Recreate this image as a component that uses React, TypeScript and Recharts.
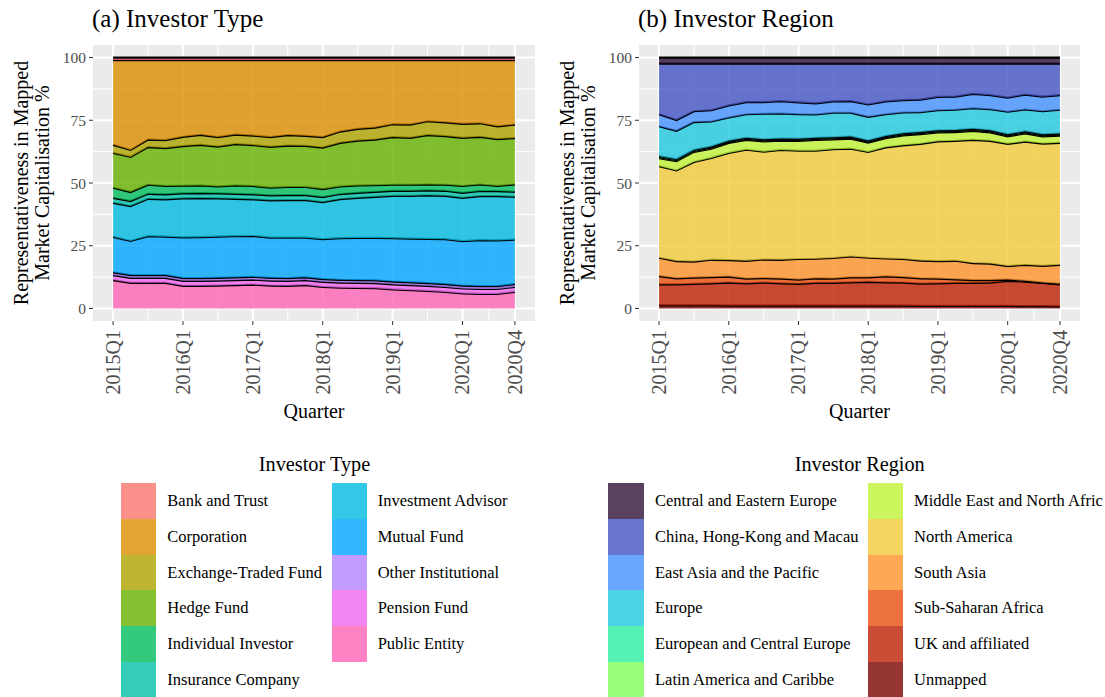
import React from "react";
import { AreaChart, Area, XAxis, YAxis, CartesianGrid } from "recharts";

const FONT = "'Liberation Serif', 'Times New Roman', serif";

const QUARTERS = [
  "2015Q1", "2015Q2", "2015Q3", "2015Q4", "2016Q1", "2016Q2", "2016Q3", "2016Q4",
  "2017Q1", "2017Q2", "2017Q3", "2017Q4", "2018Q1", "2018Q2", "2018Q3", "2018Q4",
  "2019Q1", "2019Q2", "2019Q3", "2019Q4", "2020Q1", "2020Q2", "2020Q3", "2020Q4",
];
const X_BREAKS = [0, 4, 8, 12, 16, 20, 23];
const X_MINOR = [2, 6, 10, 14, 18, 21.5];
const Y_BREAKS = [0, 25, 50, 75, 100];
const Y_MINOR = [12.5, 37.5, 62.5, 87.5];

// (a) investor type, legend order (top of stack first)
const TYPE_NAMES = [
  "Bank and Trust", "Corporation", "Exchange-Traded Fund", "Hedge Fund", "Individual Investor",
  "Insurance Company", "Investment Advisor", "Mutual Fund", "Other Institutional", "Pension Fund", "Public Entity",
];
const TYPE_COLORS = ["#F8766D", "#DB8E00", "#AEA200", "#64B200", "#00BD5C", "#00C1A7", "#00BADE", "#00A6FF", "#B385FF", "#EF67EB", "#FF63B6"];

const bankTrust = [1.0, 1.0, 1.0, 1.0, 1.0, 1.0, 1.0, 1.0, 1.0, 1.0, 1.0, 1.0, 1.0, 1.0, 1.0, 1.0, 1.0, 1.0, 1.0, 1.0, 1.0, 1.0, 1.0, 1.0];
const corporation = [33.8, 35.8, 31.7, 31.9, 30.6, 29.8, 30.7, 29.7, 30.1, 30.7, 29.9, 30.2, 30.7, 28.5, 27.4, 26.9, 25.6, 25.7, 24.4, 24.8, 25.4, 25.2, 26.4, 25.7];
const etf = [3.2, 2.8, 3.0, 3.2, 3.7, 4.0, 3.8, 3.8, 3.8, 3.9, 4.2, 4.0, 4.2, 4.5, 4.7, 4.8, 5.1, 5.3, 5.5, 5.5, 5.6, 5.4, 5.1, 5.4];
const hedgeFund = [13.9, 14.0, 15.0, 15.1, 15.8, 16.2, 15.9, 16.5, 16.3, 16.3, 16.5, 16.4, 16.5, 17.4, 17.9, 18.2, 19.0, 18.7, 19.7, 19.4, 19.2, 19.0, 18.7, 18.5];
const individual = [4.0, 3.6, 3.6, 3.3, 3.0, 3.0, 2.7, 3.3, 3.3, 3.0, 3.2, 3.2, 3.2, 3.0, 2.9, 2.6, 2.4, 2.4, 2.3, 2.4, 2.7, 2.6, 2.0, 2.9];
const insurance = [2.0, 2.0, 2.0, 2.0, 2.0, 2.0, 2.0, 2.0, 2.0, 2.0, 2.0, 2.0, 2.0, 2.0, 2.0, 2.0, 2.0, 2.0, 2.0, 2.0, 2.0, 2.0, 2.0, 2.0];
const investAdvisor = [13.6, 13.9, 14.9, 14.9, 15.6, 15.6, 15.3, 14.9, 14.6, 14.9, 15.0, 15.0, 14.8, 15.6, 16.0, 16.4, 16.9, 17.1, 17.4, 17.3, 17.3, 17.6, 17.7, 17.1];
const mutualFund = [14.1, 13.6, 15.5, 15.3, 16.2, 16.3, 16.4, 16.4, 16.3, 16.0, 16.1, 15.8, 15.9, 16.6, 16.8, 16.9, 17.3, 17.4, 17.6, 17.9, 17.7, 18.3, 18.2, 17.7];
const otherInst = [1.1, 1.1, 1.1, 1.1, 1.1, 1.1, 1.1, 1.1, 1.1, 1.1, 1.1, 1.1, 1.1, 1.1, 1.1, 1.1, 1.1, 1.1, 1.1, 1.1, 1.1, 1.1, 1.1, 1.1];
const pensionFund = [2.0, 2.0, 2.0, 2.0, 2.0, 2.0, 2.0, 2.0, 2.0, 2.0, 2.0, 2.0, 2.0, 2.0, 2.0, 2.0, 2.0, 2.0, 2.0, 2.0, 2.0, 2.0, 2.0, 2.0];
const publicEntity = [11.3, 10.2, 10.2, 10.2, 9.0, 9.0, 9.1, 9.3, 9.5, 9.1, 9.0, 9.3, 8.6, 8.3, 8.2, 8.1, 7.6, 7.3, 7.0, 6.6, 6.0, 5.8, 5.8, 6.6];

// (b) investor region
const REGION_NAMES = [
  "Central and Eastern Europe", "China, Hong-Kong and Macau", "East Asia and the Pacific", "Europe",
  "European and Central Europe", "Latin America and Caribbe", "Middle East and North Afric", "North America",
  "South Asia", "Sub-Saharan Africa", "UK and affiliated", "Unmapped",
];
const REGION_COLORS = ["#30123B", "#4454C4", "#4490FE", "#1FC8DE", "#29EFA2", "#7DFF56", "#C1F334", "#F1CA3A", "#FE922A", "#EA4F0D", "#BE2102", "#7A0403"];

const centralEastern = [2.4, 2.4, 2.4, 2.4, 2.4, 2.4, 2.4, 2.4, 2.4, 2.4, 2.4, 2.4, 2.4, 2.4, 2.4, 2.4, 2.4, 2.4, 2.4, 2.4, 2.4, 2.4, 2.4, 2.4];
const china = [20.2, 22.5, 19.0, 18.6, 16.7, 15.4, 15.4, 15.0, 15.5, 15.9, 15.1, 15.0, 16.3, 15.1, 14.6, 14.4, 13.3, 13.2, 12.1, 12.6, 13.6, 12.4, 13.2, 12.6];
const eastAsia = [4.8, 4.3, 4.3, 4.5, 4.8, 4.8, 4.6, 4.9, 4.7, 4.4, 4.5, 4.6, 4.9, 5.1, 4.9, 5.0, 5.3, 5.2, 5.7, 5.6, 5.6, 5.9, 5.8, 5.8];
const europe = [11.9, 11.3, 11.1, 10.0, 9.3, 9.4, 10.2, 10.0, 9.8, 9.3, 9.8, 9.5, 9.5, 8.7, 8.3, 7.9, 8.0, 8.1, 8.2, 8.4, 9.0, 8.7, 9.2, 9.5];
const euroCentral = [0.4, 0.4, 0.4, 0.4, 0.4, 0.4, 0.4, 0.4, 0.4, 0.4, 0.4, 0.4, 0.4, 0.4, 0.4, 0.4, 0.4, 0.4, 0.4, 0.4, 0.4, 0.4, 0.4, 0.4];
const latinAmerica = [0.4, 0.4, 0.4, 0.4, 0.4, 0.4, 0.4, 0.4, 0.4, 0.4, 0.4, 0.4, 0.4, 0.4, 0.4, 0.4, 0.4, 0.4, 0.4, 0.4, 0.4, 0.4, 0.4, 0.4];
const middleEast = [3.2, 3.7, 4.0, 3.7, 4.0, 3.9, 4.1, 3.7, 3.9, 4.3, 3.9, 4.0, 3.7, 3.7, 4.0, 3.9, 3.6, 3.5, 3.6, 3.4, 3.0, 3.3, 2.9, 2.9];
const northAmerica = [36.5, 36.1, 39.7, 40.6, 42.7, 44.3, 43.0, 43.8, 43.2, 43.1, 43.4, 43.0, 42.2, 44.3, 45.3, 46.5, 47.7, 47.8, 49.1, 48.9, 48.7, 49.1, 48.7, 48.6];
const southAsia = [7.3, 6.9, 6.4, 6.9, 6.6, 7.1, 7.4, 7.5, 8.2, 7.8, 8.2, 8.3, 7.8, 7.1, 7.2, 7.1, 7.0, 7.4, 6.8, 6.6, 5.4, 6.4, 6.7, 7.6];
const subSaharan = [3.3, 2.4, 2.5, 2.5, 2.4, 1.9, 1.8, 1.9, 1.7, 1.8, 1.7, 2.0, 1.8, 2.4, 2.2, 2.1, 1.9, 1.4, 1.1, 1.0, 0.5, 0.3, 0.1, 0.2];
const ukAffiliated = [8.4, 8.4, 8.6, 8.8, 9.2, 8.9, 9.2, 8.9, 8.7, 9.1, 9.1, 9.3, 9.5, 9.3, 9.2, 8.9, 9.0, 9.2, 9.2, 9.3, 10.0, 9.8, 9.3, 8.8];
const unmapped = [1.2, 1.2, 1.2, 1.2, 1.1, 1.1, 1.1, 1.1, 1.1, 1.1, 1.1, 1.1, 1.1, 1.1, 1.1, 1.0, 1.0, 1.0, 1.0, 1.0, 1.0, 0.9, 0.9, 0.8];

const TYPE_SERIES = [bankTrust, corporation, etf, hedgeFund, individual, insurance, investAdvisor, mutualFund, otherInst, pensionFund, publicEntity];
const REGION_SERIES = [centralEastern, china, eastAsia, europe, euroCentral, latinAmerica, middleEast, northAmerica, southAsia, subSaharan, ukAffiliated, unmapped];

const XTick = (props: any) => {
  const { x, y, payload } = props;
  return (
    <text x={x} y={y} dy="0.35em" transform={`rotate(-90 ${x} ${y})`} textAnchor="end" fontSize={20} fill="#4D4D4D" fontFamily={FONT}>
      {QUARTERS[payload.value]}
    </text>
  );
};

function StackPanel({ left, marginLeft, title, series, colors }: { left: number; marginLeft: number; title: string; series: number[][]; colors: string[] }) {
  const rows = QUARTERS.map((_, i) => {
    const r: any = { q: i };
    series.forEach((s, k) => { r["s" + k] = s[i]; });
    return r;
  });
  const order = series.map((_, k) => k).reverse();
  const plotLeft = left + marginLeft + 40;
  const plotCenter = (plotLeft + left + 535) / 2;
  return (
    <>
      <div style={{ position: "absolute", left: plotLeft - 1, top: 5, fontSize: 25, lineHeight: "28px", fontFamily: FONT, whiteSpace: "nowrap" }}>{title}</div>
      <div style={{ position: "absolute", left: plotLeft - 61 - 150, top: 162, width: 300, height: 42, lineHeight: "21px", fontSize: 20, fontFamily: FONT, textAlign: "center", transform: "rotate(-90deg)", whiteSpace: "nowrap" }}>
        <div>Representativeness in Mapped</div>
        <div>Market Capitalisation %</div>
      </div>
      <div style={{ position: "absolute", left: plotCenter - 100, top: 399, width: 200, textAlign: "center", fontSize: 20, lineHeight: "24px", fontFamily: FONT }}>Quarter</div>
      <div style={{ position: "absolute", left, top: 0 }}>
        <AreaChart width={545} height={401} data={rows} margin={{ top: 45, right: 10, bottom: 0, left: marginLeft }}>
          <CartesianGrid fill="#EBEBEB" fillOpacity={1} stroke="#FFFFFF" strokeWidth={1} horizontalValues={Y_MINOR} verticalValues={X_MINOR} />
          <CartesianGrid stroke="#FFFFFF" strokeWidth={2} horizontalValues={Y_BREAKS} verticalValues={X_BREAKS} />
          <XAxis dataKey="q" type="number" domain={[-1.15, 24.15]} allowDataOverflow ticks={X_BREAKS} interval={0}
            tick={<XTick />} tickSize={4} tickMargin={5} tickLine={{ stroke: "#333333" }} axisLine={false} height={80} />
          <YAxis type="number" domain={[-5, 105]} allowDataOverflow ticks={Y_BREAKS} interval={0} width={40}
            tick={{ fill: "#4D4D4D", fontSize: 15.5, fontFamily: FONT }} tickSize={4} tickMargin={3} tickLine={{ stroke: "#333333" }} axisLine={false} />
          {order.map((k) => (
            <Area key={k} type="linear" dataKey={"s" + k} stackId="a" fill={colors[k]} fillOpacity={0.8}
              stroke="#000000" strokeWidth={2.2} dot={false} activeDot={false} isAnimationActive={false} />
          ))}
        </AreaChart>
      </div>
    </>
  );
}

function Legend({ title, names, colors, center, swatchX, textX }: { title: string; names: string[]; colors: string[]; center: number; swatchX: number[]; textX: number[] }) {
  const perCol = 6;
  const rowH = 35.67;
  return (
    <>
      <div style={{ position: "absolute", left: center - 150, top: 452, width: 300, textAlign: "center", fontSize: 20.3, lineHeight: "24px", fontFamily: FONT }}>{title}</div>
      {names.map((n, i) => {
        const col = Math.floor(i / perCol);
        const row = i % perCol;
        const top = 483.3 + row * rowH;
        return (
          <React.Fragment key={n}>
            <div style={{ position: "absolute", left: swatchX[col], top, width: 35.6, height: rowH, background: colors[i], opacity: 0.8 }} />
            <div style={{ position: "absolute", left: textX[col], top, height: rowH, lineHeight: rowH + "px", fontSize: 16.5, fontFamily: FONT, whiteSpace: "nowrap" }}>{n}</div>
          </React.Fragment>
        );
      })}
    </>
  );
}

export default function App() {
  return (
    <div style={{ position: "absolute", left: 0, top: 0, width: 1105, height: 697, overflow: "hidden", background: "#FFFFFF", color: "#000000" }}>
      <StackPanel left={0} marginLeft={53} title="(a) Investor Type" series={TYPE_SERIES} colors={TYPE_COLORS} />
      <StackPanel left={545} marginLeft={54} title="(b) Investor Region" series={REGION_SERIES} colors={REGION_COLORS} />
      <Legend title="Investor Type" names={TYPE_NAMES} colors={TYPE_COLORS} center={314.5} swatchX={[120.7, 331.7]} textX={[167.3, 377.7]} />
      <Legend title="Investor Region" names={REGION_NAMES} colors={REGION_COLORS} center={859.7} swatchX={[608.3, 867.7]} textX={[655, 914]} />
    </div>
  );
}
